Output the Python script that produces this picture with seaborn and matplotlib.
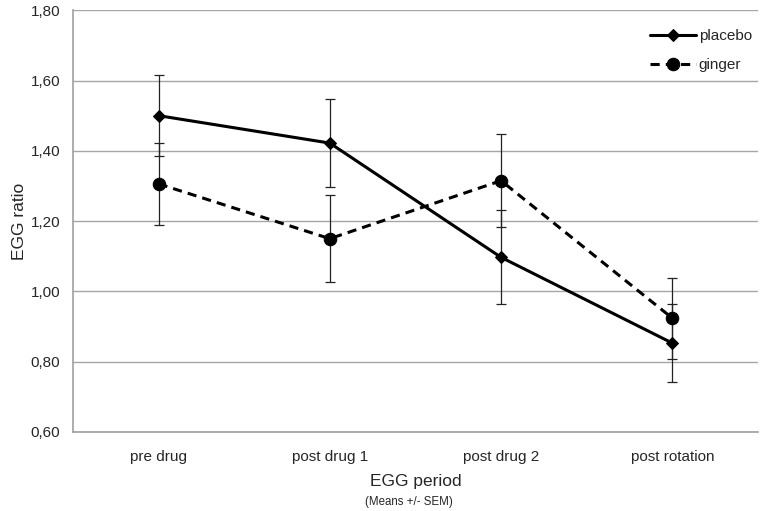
import pandas as pd
import seaborn as sns
import matplotlib.pyplot as plt

# EGG ratio per period (means +/- SEM)
periods = ['pre drug', 'post drug 1', 'post drug 2', 'post rotation']
placebo_mean = [1.500, 1.422, 1.097, 0.853]
placebo_sem = [0.115, 0.125, 0.134, 0.112]
ginger_mean = [1.306, 1.150, 1.315, 0.924]
ginger_sem = [0.117, 0.124, 0.133, 0.115]

df = pd.DataFrame({
    'period': periods * 2,
    'ratio': placebo_mean + ginger_mean,
    'sem': placebo_sem + ginger_sem,
    'group': ['placebo'] * 4 + ['ginger'] * 4,
})

sns.set_style('white')
plt.rcParams['font.family'] = ['Liberation Sans', 'DejaVu Sans']

fig, ax = plt.subplots(figsize=(7.64, 5.11), dpi=100)
fig.subplots_adjust(left=0.0955, right=0.992, top=0.980, bottom=0.1546)

# error bars first so the lines sit on top
for grp in ['placebo', 'ginger']:
    sub = df[df['group'] == grp]
    ax.errorbar(range(len(periods)), sub['ratio'], yerr=sub['sem'], fmt='none',
                ecolor='#222222', elinewidth=0.9, capsize=3.5, capthick=0.9, zorder=2)

sns.lineplot(data=df, x='period', y='ratio', style='group', ax=ax,
             color='black', linewidth=2.2, sort=False,
             markers={'placebo': 'D', 'ginger': 'o'},
             dashes={'placebo': '', 'ginger': (3, 2)},
             markersize=7, markeredgecolor='black', zorder=3)
# marker sizes per group
for line in ax.get_lines():
    if line.get_marker() == 'o':
        line.set_markersize(9)
    elif line.get_marker() == 'D':
        line.set_markersize(6)

ax.set_xlim(-0.5, 3.5)
ax.set_ylim(0.6, 1.8)
ax.set_yticks([0.6, 0.8, 1.0, 1.2, 1.4, 1.6, 1.8])
ax.set_yticklabels(['0,60', '0,80', '1,00', '1,20', '1,40', '1,60', '1,80'], fontsize=11)
ax.set_xticks(range(len(periods)))
ax.set_xticklabels(periods, fontsize=11)
ax.set_xticks([-0.5, 0.5, 1.5, 2.5, 3.5], minor=True)
ax.tick_params(axis='x', which='major', length=0, pad=13)
ax.tick_params(axis='x', which='minor', length=5, color='#999999', direction='out')
ax.tick_params(axis='y', length=5, color='#999999', direction='out', pad=4)

ax.yaxis.grid(True, color='#a6a6a6', linewidth=1)
ax.set_axisbelow(True)
for side in ['top', 'right']:
    ax.spines[side].set_visible(False)
for side in ['left', 'bottom']:
    ax.spines[side].set_color('#a0a0a0')
    ax.spines[side].set_linewidth(1.2)

ax.set_ylabel('EGG ratio', fontsize=12.5, labelpad=3)
ax.set_xlabel('EGG period', fontsize=12.5, labelpad=7)
fig.text(0.5355, 0.012, '(Means +/- SEM)', ha='center', fontsize=8.3)

leg = ax.legend(loc='upper right', bbox_to_anchor=(1.0, 0.969), frameon=False, fontsize=11,
                handlelength=3.0, borderaxespad=0, labelspacing=0.95, handletextpad=0.2)
for h in leg.legend_handles:
    h.set_color('black')

plt.savefig('out.png', dpi=100)
